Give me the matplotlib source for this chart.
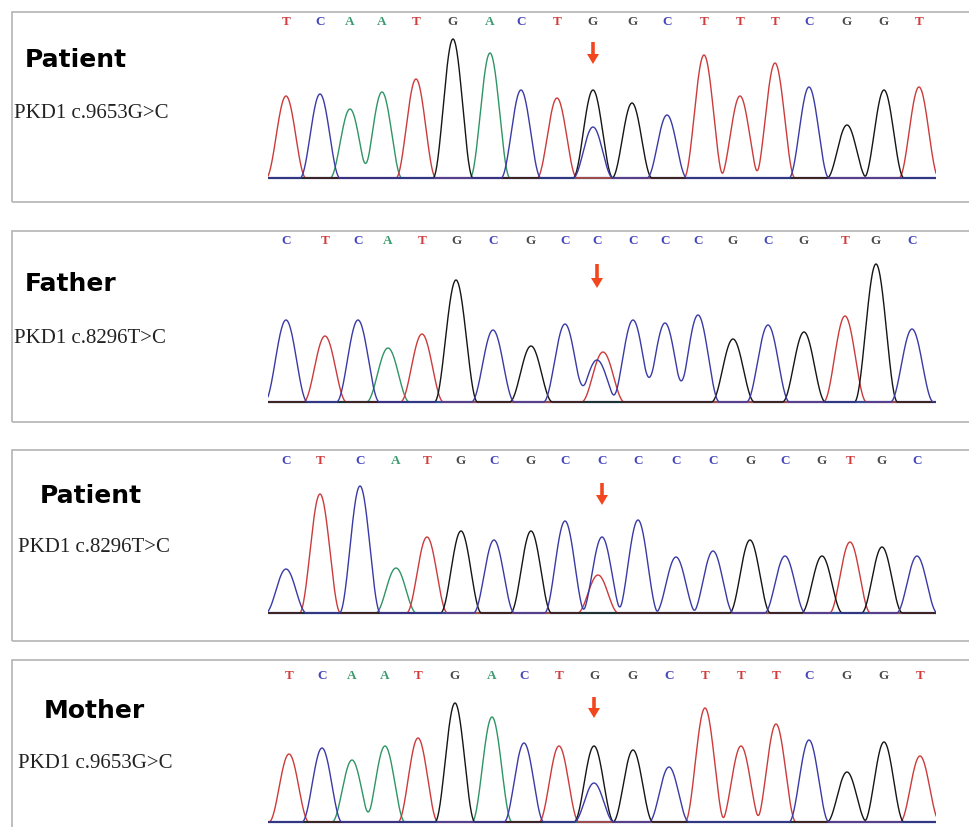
import matplotlib
matplotlib.use('Agg')
import matplotlib.pyplot as plt
from matplotlib.patches import Rectangle
import numpy as np

W, H = 970, 827

# ---- data (scan position, peak signal) ----
p1_title = "Patient"
p1_variant = "PKD1 c.9653G>C"
p1_bases = list("TCAATGACTGGCTTTCGGT")
p1_pos = [18, 52, 82, 114, 148, 185, 222, 253, 289, 325, 364, 399, 436, 472, 507, 541, 579, 616, 651]
p1_height = [82, 84, 69, 86, 99, 139, 125, 88, 80, 88, 75, 63, 123, 82, 115, 91, 53, 88, 91]
p1_minor = ("C", 325, 51)

p2_title = "Father"
p2_variant = "PKD1 c.8296T>C"
p2_bases = list("CTCATGCGCCCCCGCGTGC")
p2_pos = [18, 57, 90, 120, 154, 188, 225, 263, 297, 329, 365, 397, 430, 465, 500, 536, 577, 608, 644]
p2_height = [82, 66, 82, 54, 68, 122, 72, 56, 78, 42, 82, 79, 87, 63, 77, 70, 86, 138, 73]
p2_minor = ("T", 335, 50)

p3_title = "Patient"
p3_variant = "PKD1 c.8296T>C"
p3_bases = list("CTCATGCGCCCCCGCGTGC")
p3_pos = [18, 52, 92, 128, 159, 193, 226, 263, 297, 334, 370, 408, 445, 482, 517, 554, 582, 614, 649]
p3_height = [44, 119, 127, 45, 76, 82, 73, 82, 92, 76, 93, 56, 62, 73, 57, 57, 71, 66, 57]
p3_minor = ("T", 330, 38)

p4_title = "Mother"
p4_variant = "PKD1 c.9653G>C"
p4_bases = list("TCAATGACTGGCTTTCGGT")
p4_pos = [21, 54, 84, 117, 150, 187, 224, 256, 291, 326, 365, 401, 437, 473, 508, 541, 579, 616, 652]
p4_height = [68, 74, 62, 76, 84, 119, 105, 79, 76, 76, 72, 55, 114, 76, 98, 82, 50, 80, 66]
p4_minor = ("C", 326, 39)

trace_colors = {'A': '#2f9466', 'C': '#3a3aa6', 'G': '#151515', 'T': '#cc3b3b'}
letter_colors = {'A': '#3a9a6e', 'C': '#4646bc', 'G': '#4a4a4a', 'T': '#d23c3c'}

# ---- layout (pixels) ----
panels = [
    # data, box top, box bottom, baseline, title xy, variant xy, letter row, arrow (top, tip), peak half width
    ((p1_title, p1_variant, p1_bases, p1_pos, p1_height, p1_minor), 12, 202, 178, (25, 60), (14, 114), 156, (136, 114), 20),
    ((p2_title, p2_variant, p2_bases, p2_pos, p2_height, p2_minor), 231, 422, 402, (25, 284), (14, 338), 161, (138, 114), 21.5),
    ((p3_title, p3_variant, p3_bases, p3_pos, p3_height, p3_minor), 450, 641, 613, (40, 496), (18, 548), 152, (130, 108), 20.5),
    ((p4_title, p4_variant, p4_bases, p4_pos, p4_height, p4_minor), 660, 860, 822, (44, 711), (18, 763), 146, (125, 104), 20),
]

trace_x0, trace_x1 = 268, 936


def peak(x, p, h, w):
    # smooth bell with finite support, similar to a sequencer trace peak
    d = np.clip(np.abs(x - p) / w, 0, 1)
    return h * np.cos(np.pi * d / 2) ** 2


def main():
    fig = plt.figure(figsize=(W / 100, H / 100), dpi=100)
    fig.patch.set_facecolor('white')

    x = np.linspace(0, trace_x1 - trace_x0, 1600)

    for (title, variant, bases, pos, height, minor), top, bottom, base, tpos, vpos, lrow, arrow, w in panels:
        # panel frame
        fig.add_artist(Rectangle((12 / W, 1 - bottom / H), (978 - 12) / W, (bottom - top) / H,
                                 transform=fig.transFigure, fill=False, ec='#b4b4b4', lw=1.2))
        fig.text(tpos[0] / W, 1 - tpos[1] / H, title, family='DejaVu Sans', weight='bold',
                 fontsize=18, ha='left', va='center')
        fig.text(vpos[0] / W, 1 - vpos[1] / H, variant, family='Liberation Serif',
                 fontsize=15, ha='left', va='center', color='#222222')

        ax = fig.add_axes([trace_x0 / W, 1 - (base + 6) / H, (trace_x1 - trace_x0) / W, 180 / H])
        ax.set_xlim(0, trace_x1 - trace_x0)
        ax.set_ylim(-6, 174)
        ax.axis('off')

        signal = {b: np.zeros_like(x) for b in 'ACGT'}
        for b, p, h in zip(bases, pos, height):
            signal[b] += peak(x, p, h, w)
        mb, mp, mh = minor
        signal[mb] += peak(x, mp, mh, w)

        ax.plot([x[0], x[-1]], [0, 0], color='#34348a', lw=1.6)
        for b in ['A', 'T', 'G', 'C']:
            ax.plot(x, signal[b], color=trace_colors[b], lw=1.0)

        for b, p in zip(bases, pos):
            ax.text(p, lrow, b, color=letter_colors[b], family='Liberation Serif', weight='bold',
                    fontsize=9.5, ha='center', va='center', clip_on=False)

        # arrow over the variant position
        het = pos[9]
        ax.arrow(het, arrow[0], 0, arrow[1] - arrow[0], width=3.6, head_width=12,
                 head_length=10, length_includes_head=True, color='#f2461e', lw=0)

    fig.savefig('out.png', dpi=100)


if __name__ == '__main__':
    main()
